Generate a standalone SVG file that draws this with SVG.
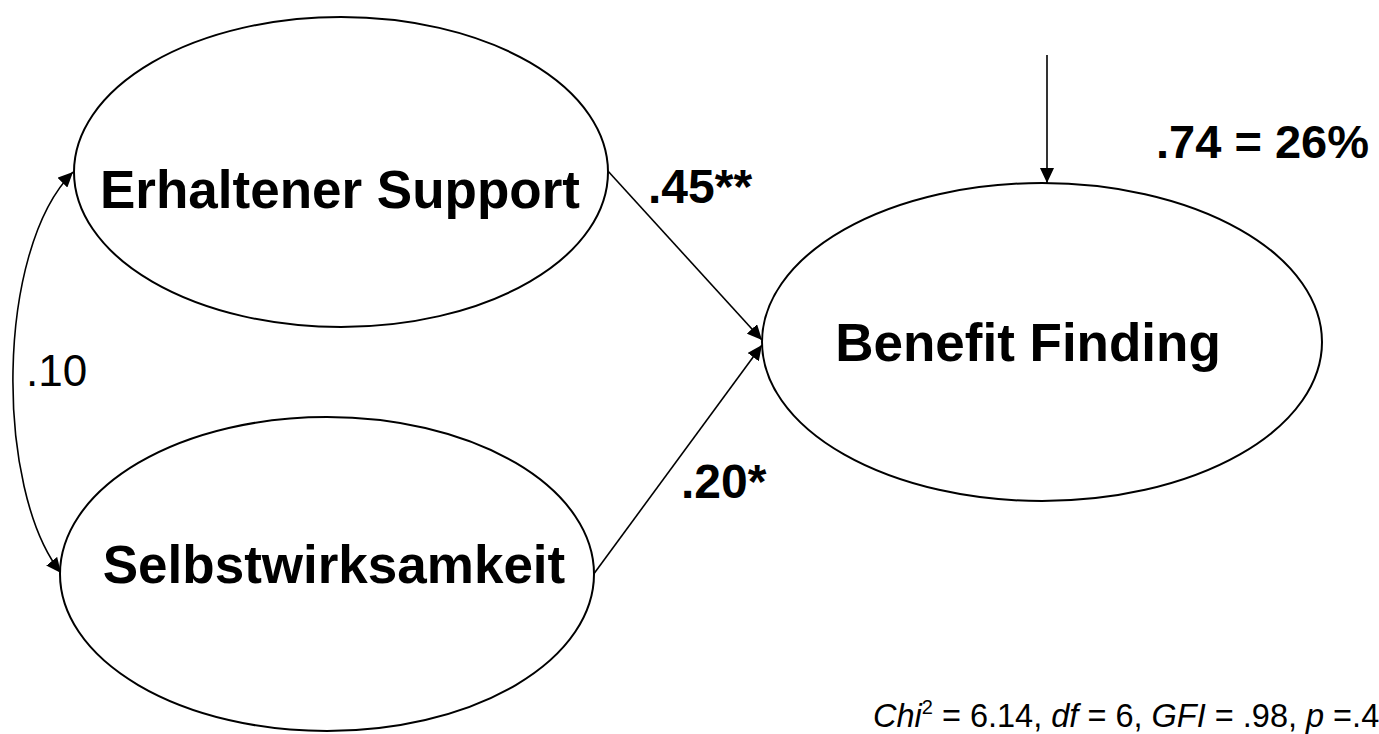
<svg xmlns="http://www.w3.org/2000/svg" width="1379" height="734" viewBox="0 0 1379 734">
<style>
.node ellipse{fill:#fff;stroke:#000;stroke-width:2}
.lbl{font-family:"Liberation Sans",Arial,sans-serif;font-weight:bold;font-size:53px;fill:#000}
.coef{font-family:"Liberation Sans",Arial,sans-serif;font-weight:bold;font-size:48px;fill:#000}
.reg{font-family:"Liberation Sans",Arial,sans-serif;font-size:44px;fill:#000}
.fit{font-family:"Liberation Sans",Arial,sans-serif;font-size:32.5px;fill:#000}
.conn path,.conn line{fill:none;stroke:#000;stroke-width:1.6}
</style>
<defs>
<marker id="ah" markerUnits="userSpaceOnUse" markerWidth="16" markerHeight="14" refX="15" refY="7" orient="auto-start-reverse">
<path d="M0,0 L15,7 L0,14 z" fill="#000"/>
</marker>
</defs>
<rect width="1379" height="734" fill="#fff"/>
<g id="connectors" class="conn">
<path d="M73,172 C-5,250 -5,490 61,573" marker-start="url(#ah)" marker-end="url(#ah)"/>
<line x1="607" y1="170" x2="762" y2="340" marker-end="url(#ah)"/>
<line x1="593" y1="575" x2="762" y2="345" marker-end="url(#ah)"/>
<line x1="1047" y1="55" x2="1047" y2="183" marker-end="url(#ah)"/>
</g>
<g id="node-support" class="node">
<ellipse cx="341" cy="172" rx="267" ry="155"/>
<text class="lbl" x="340" y="208" text-anchor="middle">Erhaltener Support</text>
</g>
<g id="node-selbst" class="node">
<ellipse cx="327" cy="574" rx="267" ry="157"/>
<text class="lbl" x="334" y="583" text-anchor="middle">Selbstwirksamkeit</text>
</g>
<g id="node-benefit" class="node">
<ellipse cx="1042" cy="342" rx="280" ry="159"/>
<text class="lbl" x="1028" y="361" text-anchor="middle">Benefit Finding</text>
</g>
<g id="labels">
<text class="coef" x="648" y="203">.45**</text>
<text class="coef" x="681" y="498">.20*</text>
<text class="coef" x="1156" y="158" style="font-size:47px">.74 = 26%</text>
<text class="reg" x="26" y="386">.10</text>
<text class="fit" x="873" y="727"><tspan font-style="italic">Chi</tspan><tspan font-size="20" dy="-13">2</tspan><tspan dy="13"> = 6.14, </tspan><tspan font-style="italic">df</tspan> = 6, <tspan font-style="italic">GFI</tspan> = .98, <tspan font-style="italic">p</tspan> =.41</text>
</g>
</svg>
